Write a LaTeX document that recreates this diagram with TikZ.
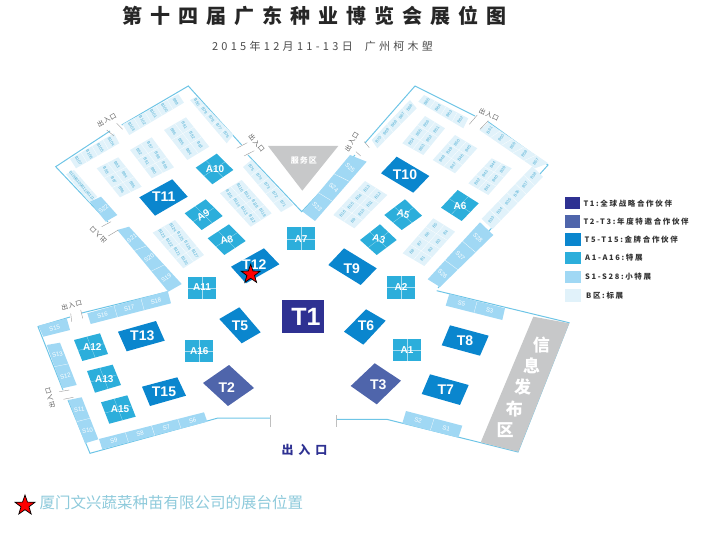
\documentclass[tikz,border=0pt]{standalone}
\usepackage{fontspec}
\setmainfont{Liberation Sans}
\newfontfamily\cjk{Noto Sans CJK SC}
\newfontfamily\cjktitle[LetterSpace=40]{Noto Sans CJK SC}
\newfontfamily\cjkwide[LetterSpace=12]{Noto Sans CJK SC}
\newfontfamily\cjkleg[LetterSpace=22]{Noto Sans CJK SC}
\newfontfamily\cjksub[LetterSpace=30]{Noto Sans CJK SC}
\usetikzlibrary{calc,shapes.geometric}
\definecolor{cT}{HTML}{2E3192}
\definecolor{cTT}{HTML}{4F65AB}
\definecolor{cG}{HTML}{0A86CE}
\definecolor{cA}{HTML}{2CAEDB}
\definecolor{cS}{HTML}{A0D8F4}
\definecolor{cB}{HTML}{E1F2FA}
\definecolor{cW}{HTML}{6EC5E6}
\definecolor{cGrey}{HTML}{C7C8C9}
\definecolor{cNote}{HTML}{8ECADB}
\definecolor{cBL}{HTML}{4FAFD4}
\tikzset{
 wall/.style={draw=cW,line width=1pt,line join=miter},
 tick/.style={draw=gray!80,line width=0.4pt},
 blab/.style={text=cBL,font=\fontsize{4.1}{5}\selectfont,inner sep=0pt},
 slab/.style={text=white,font=\fontsize{6}{7}\selectfont,inner sep=0pt},
 bfill/.style={fill=cB},
 sfill/.style={fill=cS},
 tlab/.style={text=white,font=\bfseries\fontsize{14}{15}\selectfont,inner sep=0pt},
 alab/.style={text=white,font=\bfseries\fontsize{10}{11}\selectfont,inner sep=0pt},
 door/.style={text=black!65,font=\cjkwide\fontsize{6.5}{7}\selectfont,inner sep=0pt},
 legbox/.style={minimum width=15.5pt,minimum height=12.5pt,inner sep=0pt,anchor=north west},
 legtext/.style={anchor=west,inner sep=0pt,text=black!80,font=\cjkleg\bfseries\fontsize{7.5}{8}\selectfont},
 bigw/.style={text=white,font=\cjk\bfseries\fontsize{17}{18}\selectfont,inner sep=0pt},
}
% four corners, columns, rows, label angle, kind (b or s), labels
\newcommand\bquad[9]{%
 \coordinate (qa) at (#1);\coordinate (qb) at (#2);\coordinate (qc) at (#3);\coordinate (qd) at (#4);
 \fill[#8fill] (qa)--(qb)--(qc)--(qd)--cycle;
 \ifnum#5>1
  \foreach \ii in {1,...,\numexpr#5-1\relax}{\pgfmathsetmacro\uu{\ii/#5}
   \draw[white,line width=0.25pt] ($(qa)!\uu!(qb)$)--($(qd)!\uu!(qc)$);}
 \fi
 \ifnum#6>1
  \foreach \ii in {1,...,\numexpr#6-1\relax}{\pgfmathsetmacro\uu{\ii/#6}
   \draw[white,line width=0.25pt] ($(qa)!\uu!(qd)$)--($(qb)!\uu!(qc)$);}
 \fi
 \foreach \lab [count=\kk from 0] in {#9}{%
  \pgfmathtruncatemacro\ci{mod(\kk,#5)}\pgfmathtruncatemacro\ri{\kk/#5}
  \pgfmathsetmacro\uu{(\ci+0.5)/#5}\pgfmathsetmacro\vv{(\ri+0.5)/#6}
  \node[#8lab,rotate=#7] (lab\lab) at ($($(qa)!\uu!(qb)$)!\vv!($(qd)!\uu!(qc)$)$) {\lab};}%
}
% solid block from corners + label
\newcommand\blk[8]{\fill[#5] (#1)--(#2)--(#3)--(#4)--cycle;
 \node[tlab,rotate=#8] (n#7) at (#6) {#7};}
\newcommand\ablk[7]{\coordinate (qa) at (#1);\coordinate (qb) at (#2);\coordinate (qc) at (#3);\coordinate (qd) at (#4);
 \fill[cA] (qa)--(qb)--(qc)--(qd)--cycle;
 \draw[white!60!cA,line width=0.25pt] ($(qa)!.5!(qb)$)--($(qd)!.5!(qc)$) ($(qa)!.5!(qd)$)--($(qb)!.5!(qc)$);
 \node[alab,rotate=#7] (n#6) at (#5) {#6};}
\newcommand\arect[4]{\ablk{#1,#2}{#3,#2}{#3,#4}{#1,#4}}
\begin{document}
\begin{tikzpicture}[x=1pt,y=-1pt]
\useasboundingbox (0,0) rectangle (704,537);
% title
\node[inner sep=0pt,text=black!85,font=\cjktitle\bfseries\fontsize{20}{22}\selectfont] (title) at (314.5,16) {第十四届广东种业博览会展位图};
\node[inner sep=0pt,text=black!70,font=\cjksub\fontsize{11}{12}\selectfont] (sub) at (322.5,46) {2015年12月11-13日\hspace{12pt}广州柯木塱};
% walls
\draw[wall] (110,131)--(55.7,166.7)--(108,222);
\draw[wall] (121.7,125)--(188.3,86)--(241.7,145);
\draw[wall] (248,155)--(301.7,211.7)--(355,155);
\draw[wall] (365,143)--(415,86)--(475,116);
\draw[wall] (488,121.7)--(548,165)--(438,288);
\draw[wall] (436.7,290.7)--(569,322.7)--(518,452)--(386.7,419.3)--(336.7,419.3);
\draw[wall] (270,418)--(218,418)--(90,453.3)--(68,400);
\draw[wall] (63,390)--(38,326.7)--(70,317);
\draw[wall] (81.7,313)--(168,291.7);
\draw[draw=black!25,line width=0.6pt] (270,415)--(270,427) (336,415)--(336,427);
% grey zones
\fill[cGrey] (268,146)--(338.3,146)--(302.3,190.7)--cycle;
\node[inner sep=0pt,text=white,font=\cjkwide\bfseries\fontsize{8}{9}\selectfont] (fw) at (303.8,160) {服务区};
\fill[cGrey] (533.3,316.7)--(569.3,323.3)--(518.3,451.7)--(480.7,442.3)--cycle;
\node[bigw] (x1) at (541.3,345) {信};
\node[bigw] (x2) at (531.7,366) {息};
\node[bigw] (x3) at (522.7,387.3) {发};
\node[bigw] (x4) at (514.3,409) {布};
\node[bigw] (x5) at (505,430) {区};
% B areas left wing
\bquad{122.7,124.3}{178.3,94}{184,102.7}{129.3,135}{5}{1}{-60}{b}{B103,B102,B101,B100,B99}
\bquad{70,159}{114,133.3}{119.3,143.3}{76,168.3}{4}{1}{-60}{b}{B107,B106,B105,B104}
\bquad{66,174.3}{90,202.7}{97.3,196.7}{74,170}{4}{1}{-50}{b}{B108,B109,B110,B111}
\bquad{96.7,168.3}{120,197.3}{141.7,186.7}{118.3,157.3}{3}{2}{-60}{b}{B98,B97,B96,B93,B94,B95}
\bquad{130,150}{151.7,178.3}{174,167.3}{151.7,137.3}{3}{2}{-60}{b}{B92,B91,B90,B87,B88,B89}
\bquad{164,130}{187.3,160}{209.3,146.7}{186,117.3}{3}{2}{-60}{b}{B86,B85,B84,B81,B82,B83}
\bquad{220,193.3}{250.7,226.7}{271.7,213.3}{241.7,180}{4}{2}{-60}{b}{B115,B114,B113,B112,B116,B117,B118,B119}
\bquad{152.7,232.7}{183.3,268.3}{204,255}{175,220}{4}{2}{-60}{b}{B123,B122,B121,B120,B124,B125,B126,B127}
\bquad{190,100}{226.7,143.3}{233.3,135}{196.7,96.7}{5}{1}{-60}{b}{B80,B79,B78,B77,B76}
\bquad{243,167}{281,212}{293.3,205}{251.7,159.7}{5}{1}{-60}{b}{B75,B74,B73,B72,B71}
% B areas right wing
\bquad{333.3,215}{365,181}{387.3,195}{354.3,228.3}{4}{2}{50}{b}{B16,B15,B14,B13,B9,B10,B11,B12}
\bquad{402.7,253.3}{433.3,218.3}{455,231.7}{424.3,266}{4}{2}{50}{b}{B8,B7,B6,B5,B1,B2,B3,B4}
\bquad{371.7,140}{410,100}{416.7,108.3}{377.3,148.3}{5}{1}{55}{b}{B70,B69,B68,B67,B66}
\bquad{402.3,143.3}{425,116}{445,128.3}{423.3,155}{3}{2}{55}{b}{B54,B55,B56,B53,B52,B51}
\bquad{432.7,160}{455,135}{477.3,148.3}{455,173.3}{3}{2}{55}{b}{B48,B49,B50,B47,B46,B45}
\bquad{468.3,183.3}{491.7,158.3}{511.7,168.3}{488.3,195}{3}{2}{55}{b}{B42,B43,B44,B41,B40,B39}
\bquad{481.6,218.8}{532.3,166.4}{543,176.8}{492.4,229.2}{6}{1}{55}{b}{B33,B34,B35,B36,B37,B38}
\bquad{479.3,130}{535,168.3}{548.3,163.3}{488.3,122.7}{5}{1}{55}{b}{B61,B60,B59,B58,B57}
\bquad{418.3,101.7}{463.3,128.3}{468.3,118.3}{424,95}{4}{1}{55}{b}{B65,B64,B63,B62}
% S strips
\bquad{87.3,313.3}{167.7,291}{171,303.3}{90.7,324}{3}{1}{15}{s}{S16,S17,S18}
\bquad{38.3,325.7}{66.7,318.3}{70,330}{43.3,336.7}{1}{1}{15}{s}{S15}
\bquad{46.7,345}{62.3,388.3}{76.7,385}{60,342.7}{2}{1}{15}{s}{S13,S12}
\bquad{68.3,400}{85,443.3}{98.3,439.3}{81.7,397.3}{2}{1}{10}{s}{S11,S10}
\bquad{99,439}{204,412.3}{207.3,421.7}{102.3,449.3}{4}{1}{15}{s}{S9,S8,S7,S6}
\bquad{449.3,294}{505,308.3}{502.3,320}{445.7,305.7}{2}{1}{-15}{s}{S5,S3}
\bquad{406,411}{462.3,425.7}{458.3,437.7}{402.3,423.3}{2}{1}{-15}{s}{S2,S1}
\bquad{427.7,279.3}{480,222.3}{493.3,235}{440,287}{3}{1}{-45}{s}{S26,S27,S28}
\bquad{302.7,211.7}{350,155}{366.7,161.7}{315,221}{3}{1}{-45}{s}{S23,S24,S25}
\bquad{90,201.7}{105.7,221.7}{117.3,215}{101,196.7}{1}{1}{40}{s}{S22}
\bquad{117.3,230}{168.3,291.7}{181.7,284}{129,226.7}{3}{1}{35}{s}{S21,S20,S19}
% large booths
\fill[cT] (282,300) rectangle (324,333);
\node[text=white,font=\bfseries\fontsize{25}{26}\selectfont,inner sep=0pt] (nT1) at (306,316.5) {T1};
\blk{203,383}{229,365}{254,388}{228,406}{cTT}{226.7,387.3}{T2}{0}
\blk{350.7,386}{374.7,363.3}{401,380.7}{376.7,404.3}{cTT}{378.3,385}{T3}{0}
\blk{139.3,197.3}{172.3,179.3}{187.7,196.7}{155,215.7}{cG}{163.7,196.7}{T11}{0}
\blk{231,266.7}{264,248.3}{279.3,264.3}{246,283.3}{cG}{254.3,265}{T12}{0}
\blk{381,173.3}{396.7,156.7}{429.3,176}{413.3,192.7}{cG}{405,175}{T10}{0}
\blk{328.3,265}{344,248.3}{376.7,268.3}{360.7,285}{cG}{351.7,268.3}{T9}{0}
\blk{344,331.7}{366,309.3}{385.7,320.7}{363.3,344.7}{cG}{366,326}{T6}{0}
\blk{441.7,345.3}{450,325.3}{488.7,335.7}{480,355.7}{cG}{465,340.7}{T8}{0}
\blk{421.7,394}{430,374.3}{468.7,385}{460,405}{cG}{445.7,390}{T7}{0}
\blk{118,331.7}{156,321}{164.7,340.7}{126.7,351.3}{cG}{142.3,336}{T13}{0}
\blk{219.3,319}{239.3,307.3}{260.7,332.3}{241.7,343.3}{cG}{240,326}{T5}{0}
\blk{142,386.7}{177.3,377.3}{186,395.7}{150,406}{cG}{164,391.7}{T15}{0}
% A booths
\ablk{195.7,167.7}{216.7,153.7}{233.3,170}{212.3,184.3}{215,168.7}{A10}{0}
\ablk{184.7,213.3}{205.7,199.3}{222.7,216}{201.7,230}{203.3,215}{A9}{30}
\ablk{207.7,238.3}{229,224.3}{245.7,241}{224.3,255}{226.7,240}{A8}{15}
\arect{188.3}{277.3}{216}{299.3}{202,287.5}{A11}{0}
\arect{287.3}{227.3}{314.7}{250}{301,239}{A7}{0}
\ablk{384.3,215}{405,199.3}{422,215.7}{401.7,230}{403.3,214}{A5}{-15}
\ablk{360,240}{380,224.3}{396.7,240}{376.7,255}{379,239.3}{A3}{-15}
\arect{387.3}{276}{415.3}{299}{401,286.7}{A2}{0}
\ablk{441,207.7}{457.7,190}{478.7,203.3}{461.7,221}{460,206}{A6}{0}
\arect{393.3}{339}{420.7}{361}{407,350}{A1}{0}
\arect{185}{340}{212.7}{362.3}{199.3,350.7}{A16}{0}
\ablk{74,340}{100,333.3}{108,354}{82.3,361}{92.3,346.7}{A12}{0}
\ablk{87,371}{112.7,364.7}{121,385}{95,392.7}{104.3,378.7}{A13}{0}
\ablk{101,402.3}{127.3,395.3}{135.7,416.7}{109.3,423.7}{120,409.3}{A15}{0}
% entrance ticks and labels
\draw[tick] (106.7,130)--(114,136) (116.7,123.3)--(122.7,129.3);
\node[door,rotate=30] (d1) at (106.7,120) {出入口};
\draw[tick] (236.7,148.3)--(247.3,142.7) (244,156)--(254.3,150.7);
\node[door,rotate=-50] (d2) at (256.7,143.3) {出入口};
\draw[tick] (101.7,226.7)--(111,221.7) (108.3,236)--(118.3,230);
\node[door,rotate=135] (d3) at (98.3,235) {出入口};
\draw[tick] (356,151.7)--(360.7,156) (364.3,141.7)--(369.3,147.7);
\node[door,rotate=60] (d4) at (351.7,141.7) {出入口};
\draw[tick] (469.3,124.3)--(477.3,115) (480,129.3)--(488.3,120.7);
\node[door,rotate=-25] (d5) at (489,114.3) {出入口};
\draw[tick] (70.7,313.3)--(71.7,321.7) (80.7,310)--(82.7,318.3);
\node[door,rotate=15] (d6) at (71.7,305) {出入口};
\draw[tick] (59.3,391.7)--(69.3,390) (63.3,399.3)--(73.3,397.3);
\node[door,rotate=105] (d7) at (50,398.3) {出入口};
\node[inner sep=0pt,text=cT,font=\cjktitle\bfseries\fontsize{12}{13}\selectfont] (d8) at (304.5,449.5) {出入口};
% legend
\node[legbox,fill=cT] (k1) at (564.3,196.7) {};
\node[legbox,fill=cTT] (k2) at (564.3,215) {};
\node[legbox,fill=cG] (k3) at (565,233.3) {};
\node[legbox,fill=cA] (k4) at (565,251.7) {};
\node[legbox,fill=cS] (k5) at (565,270.7) {};
\node[legbox,fill=cB] (k6) at (565,289.3) {};
\node[legtext] (t1) at (583.3,203.5) {T1:全球战略合作伙伴};
\node[legtext] (t2) at (583.3,221.5) {T2-T3:年度特邀合作伙伴};
\node[legtext] (t3) at (584.5,239.8) {T5-T15:金牌合作伙伴};
\node[legtext] (t4) at (585,258) {A1-A16:特展};
\node[legtext] (t5) at (585,277) {S1-S28:小特展};
\node[legtext] (t6) at (586,295.5) {B区:标展};
% stars and note
\node[star,star points=5,star point ratio=2.5,minimum size=20pt,inner sep=0pt,fill=red,draw=black,line width=0.7pt] (st1) at (250.7,274.3) {};
\node[star,star points=5,star point ratio=2.5,minimum size=21pt,inner sep=0pt,fill=red,draw=black,line width=0.7pt] (st2) at (25,505.5) {};
\node[anchor=west,inner sep=0pt,text=cNote,font=\cjk\fontsize{15.5}{16}\selectfont] (note) at (39.5,503) {厦门文兴蔬菜种苗有限公司的展台位置};
\end{tikzpicture}
\end{document}
